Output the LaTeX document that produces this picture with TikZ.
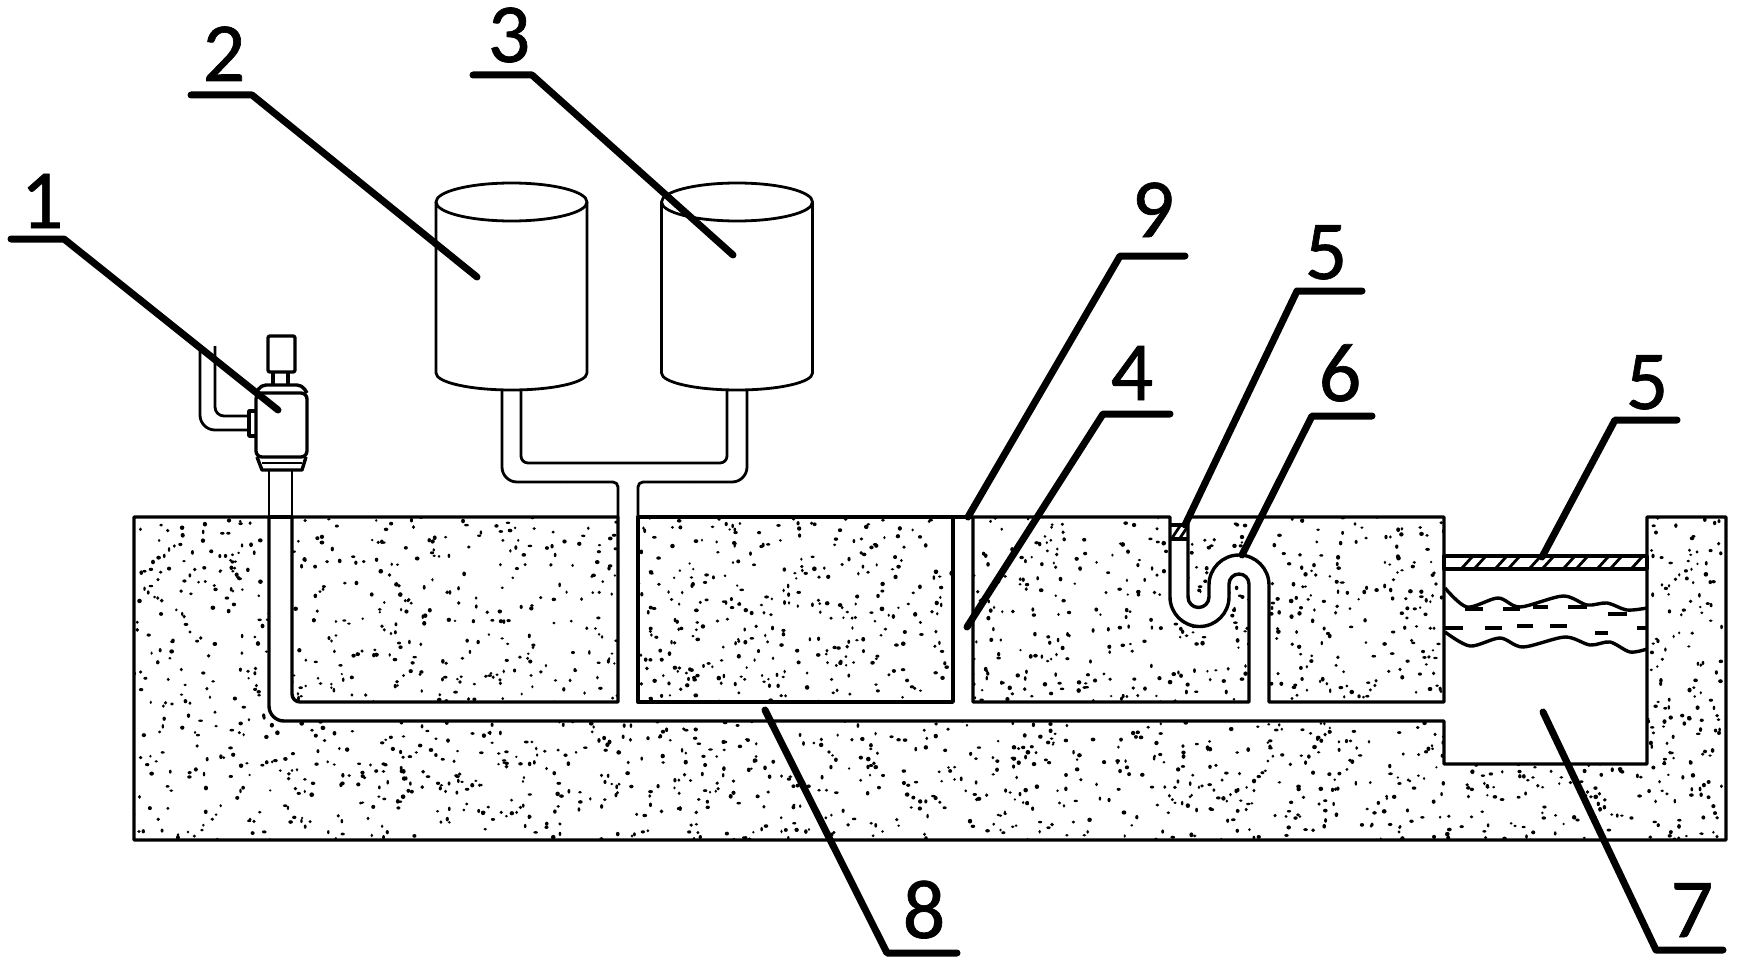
\documentclass[tikz,border=0pt]{standalone}
\usepackage{fontspec}
\setmainfont{Carlito}
\newfontfamily\numfont[FakeBold=0.8]{Carlito}
\tikzset{
  wall/.style={line width=3.4pt, line join=round},
  thin wall/.style={line width=2.8pt, line join=round},
  leader/.style={line width=7pt, line cap=round, line join=round},
  numeral/.style={font=\numfont\fontsize{84}{84}\selectfont, anchor=base, inner sep=0pt},
}
\begin{document}
\begin{tikzpicture}[x=1pt,y=1pt]
\useasboundingbox (0,0) rectangle (1743,-971);
\def\blockA{(292,-517) -- (618,-517) -- (618,-702) -- (300,-702) arc (270:180:8) -- cycle}
\def\blockB{(638,-517) -- (953,-517) -- (953,-702) -- (638,-702) -- cycle}
\def\blockC{(973,-517) -- (1170,-517) -- (1170,-597) arc (180:360:29.5) -- (1229,-584) arc (180:0:10) -- (1249,-702) -- (973,-702) -- cycle}
\def\blockD{(1188,-517) -- (1188,-597) arc (180:360:10.5) -- (1209,-585) arc (180:0:30) -- (1269,-702) -- (1444,-702) -- (1444,-517) -- cycle}
\def\blockE{(134,-517) -- (269,-517) -- (269,-706) arc (180:270:15) -- (1444,-721) -- (1444,-764) -- (1647,-764) -- (1647,-517) -- (1726,-517) -- (1726,-840) -- (134,-840) -- cycle}
% speckle of the ground
\pgfmathsetseed{4711}
\begin{scope}
\clip \blockA \blockB \blockC \blockD \blockE;
\foreach \n in {1,...,2700} {
  \pgfmathsetmacro\dx{134+rnd*1592}
  \pgfmathsetmacro\dy{-517-rnd*323}
  \pgfmathsetmacro\da{1.2+rnd*1.2}
  \pgfmathsetmacro\db{1.2+rnd*1.2}
  \fill (\dx,\dy) ellipse ({\da} and {\db});
}
\end{scope}
\draw[wall] \blockA;
\draw[wall] \blockB;
\draw[wall] \blockC;
\draw[wall] \blockD;
\draw[wall] \blockE;
\draw[wall] (269,-517) -- (292,-517);
\draw[wall] (953,-517) -- (973,-517);
% tanks
\foreach \cx in {511.5,737} {
  \draw[thin wall] (\cx-75.5,-202) -- (\cx-75.5,-373) arc (180:360:75.5 and 17) -- (\cx+75.5,-202);
  \draw[thin wall] (\cx,-202) ellipse (75.5 and 19);
}
% tank pipes
\draw[thin wall, rounded corners=15] (502,-390) -- (502,-482) -- (560,-482);
\draw[thin wall, rounded corners=5] (560,-482) -- (618,-482) -- (618,-517);
\draw[thin wall, rounded corners=15] (747,-390) -- (747,-482) -- (690,-482);
\draw[thin wall, rounded corners=5] (690,-482) -- (638,-482) -- (638,-517);
\draw[thin wall, rounded corners=7] (521,-390) -- (521,-463) -- (727,-463) -- (727,-390);
% pump
\draw[thin wall] (269,-470) -- (269,-517);
\draw[thin wall] (292,-470) -- (292,-517);
\draw[wall, rounded corners=2] (268,-336) rectangle (295,-372);
\draw[wall] (273,-372) -- (273,-385);
\draw[wall] (288,-372) -- (288,-385);
\draw[wall, rounded corners=5] (256,-393) -- (261,-385) -- (302,-385) -- (307,-393);
\draw[wall, rounded corners=6] (256,-393) rectangle (307,-457);
\draw[wall] (257,-457) -- (262,-470) -- (302,-470) -- (306,-457);
\draw[thin wall] (262,-463) -- (302,-463);
\draw[wall] (256,-411) -- (249,-411) -- (249,-436) -- (256,-436);
\draw[thin wall, rounded corners=15] (200,-348) -- (200,-430) -- (249,-430);
\draw[thin wall, rounded corners=9] (215,-346) -- (215,-416) -- (249,-416);
% small cover in the trap
\draw[wall] (1170,-525) -- (1188,-525);
\draw[wall] (1170,-539) -- (1188,-539);
\foreach \hx in {1172,1180} \draw[thin wall] (\hx,-538) -- (\hx+8,-526);
% cover of the basin
\draw[wall] (1444,-556) rectangle (1647,-569);
\foreach \hx in {1462,1475,1496,1509,1530,1543,1564,1577,1598,1611,1632} \draw[thin wall] (\hx,-568) -- (\hx+10,-557);
% water
\draw[wall] plot[smooth] coordinates {(1445,-588) (1467,-607) (1498,-598) (1520,-607) (1563,-596) (1587,-605) (1607,-603) (1627,-610) (1647,-608)};
\draw[wall] plot[smooth] coordinates {(1445,-632) (1470,-646) (1500,-638) (1523,-647) (1565,-637) (1590,-645) (1610,-642) (1630,-652) (1647,-649)};
\foreach \xa/\xb/\wy in {1465/1483/609,1503/1520/609,1533/1548/607,1568/1587/607,1608/1627/614,1445/1463/628,1485/1502/628,1517/1533/626,1550/1567/626,1595/1608/633,1637/1647/628}
  \draw[wall] (\xa,-\wy) -- (\xb,-\wy);
% numbers
\node[numeral] (num1) at (42,-228) {1};
\node[numeral] (num2) at (224,-81) {2};
\node[numeral] (num3) at (509,-62) {3};
\node[numeral] (num9) at (1153,-237) {9};
\node[numeral] (num5a) at (1326,-279) {5};
\node[numeral] (num4) at (1132,-400) {4};
\node[numeral] (num6) at (1340,-401) {6};
\node[numeral] (num5b) at (1647,-409) {5};
\node[numeral] (num8) at (924,-938) {8};
\node[numeral] (num7) at (1692,-937) {7};
% leaders
\coordinate (tip1) at (278,-410);
\coordinate (tip2) at (477,-277);
\coordinate (tip3) at (733,-255);
\coordinate (tip9) at (968,-517);
\coordinate (tip4) at (967,-627);
\coordinate (tip5a) at (1185,-525);
\coordinate (tip6) at (1242,-555);
\coordinate (tip5b) at (1542,-557);
\coordinate (tip8) at (765,-710);
\coordinate (tip7) at (1543,-712);
\draw[leader] (11,-239) -- (64,-239) -- (tip1);
\draw[leader] (191,-95) -- (252,-95) -- (tip2);
\draw[leader] (473,-75) -- (532,-75) -- (tip3);
\draw[leader] (1185,-256) -- (1120,-256) -- (tip9);
\draw[leader] (1170,-414) -- (1103,-414) -- (tip4);
\draw[leader] (1362,-291) -- (1297,-291) -- (tip5a);
\draw[leader] (1372,-416) -- (1312,-416) -- (tip6);
\draw[leader] (1677,-420) -- (1615,-420) -- (tip5b);
\draw[leader] (957,-953) -- (887,-953) -- (tip8);
\draw[leader] (1723,-950) -- (1656,-950) -- (tip7);
\end{tikzpicture}
\end{document}
